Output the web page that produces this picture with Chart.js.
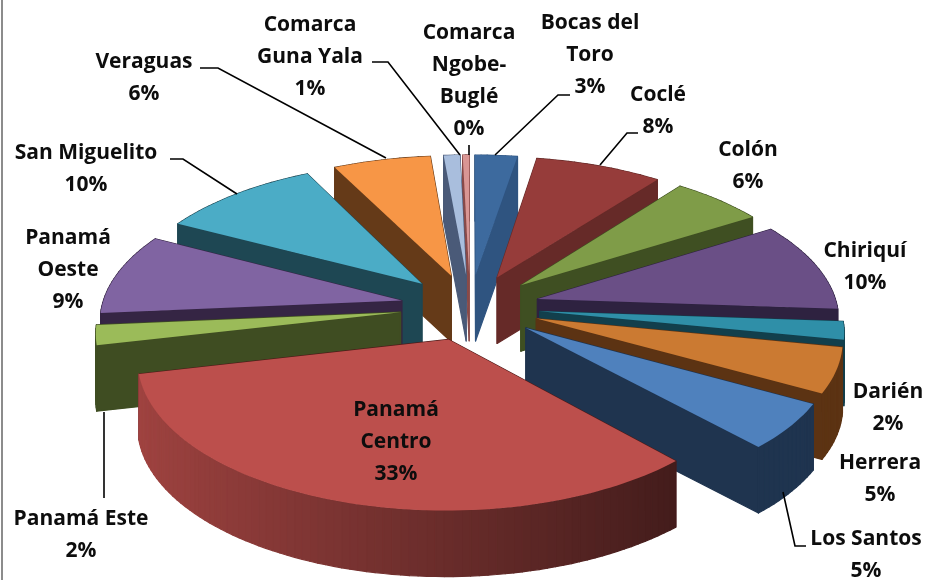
<!DOCTYPE html>
<html><head><meta charset="utf-8">
<style>html,body{margin:0;padding:0;background:#fff}canvas{display:block}</style>
<script src="https://cdn.jsdelivr.net/npm/chart.js@4"></script>
</head><body>
<canvas id="c" width="927" height="580"></canvas>
<script>
const categories = ["Bocas del Toro","Coclé","Colón","Chiriquí","Darién","Herrera","Los Santos","Panamá Centro","Panamá Este","Panamá Oeste","San Miguelito","Veraguas","Comarca Guna Yala","Comarca Ngobe-Buglé"];
const shares = [2.6,7.8,5.7,10.0,2.0,5.0,5.1,33.2,2.2,9.1,9.9,6.0,1.0,0.4];
const shareLabels = ["3%","8%","6%","10%","2%","5%","5%","33%","2%","9%","10%","6%","1%","0%"];
const topColors = ["#3d6a9e","#963c3a","#7f9c48","#6a4f86","#2f8fa8","#cb7a32","#4f81bd","#bc4f4c","#9bbb59","#8064a2","#4bacc6","#f79646","#a9bedd","#d99694"];
const wallColors = ["#2f5480","#662a28","#3f4f22","#2e2240","#123f4c","#5c3313","#1f344f","#4d1a18","#3f4d22","#352544","#1e4753","#653a18","#4a5a78","#8a4a48"];
const labelLines = [["Bocas del","Toro","3%"],["Coclé","8%"],["Colón","6%"],["Chiriquí","10%"],["Darién","2%"],["Herrera","5%"],["Los Santos","5%"],["Panamá","Centro","33%"],["Panamá Este","2%"],["Panamá","Oeste","9%"],["San Miguelito","10%"],["Veraguas","6%"],["Comarca","Guna Yala","1%"],["Comarca","Ngobe-","Buglé","0%"]];
const labelCentres = [[590,23],[658,95],[748,150],[865,251],[888,392],[880,463],[866,539],[396,410],[81,519],[68,238],[86,153],[144,62],[310,25],[469,33]];
const leaders = [[[570,95],[558,95],[495,155]],[[638,133],[627,133],[600,165]],[[200,68],[218,68],[386,158]],[[372,62],[388,62],[460,155]],[[469,145],[469,155]],[[170,159],[183,159],[237,194]],[[104,412],[104,498]],[[783,492],[795,546],[806,546]]];

const TILT = 0.4725, PERSP = 0.1215, DEPTH = 66;

function rgb(hex){return [1,3,5].map(i=>parseInt(hex.substr(i,2),16));}
function shade(hex,f){return 'rgb('+rgb(hex).map(c=>Math.min(255,Math.round(c*f))).join(',')+')';}

const pie3d = {
  id:'pie3d',
  beforeDatasetDraw(){ return false; },
  afterDatasetsDraw(chart){
    const ctx = chart.ctx, arcs = chart.getDatasetMeta(0).data;
    const largest = shares.indexOf(Math.max(...shares));
    const order = arcs.map((a,i)=>i).sort((p,q)=>{
      const m=i=>Math.sin((arcs[i].startAngle+arcs[i].endAngle)/2);
      return m(p)-m(q);
    });
    order.forEach(i=>{
      const a = arcs[i], R = a.outerRadius, mid=(a.startAngle+a.endAngle)/2, off=a.options.offset;
      const ox = off*Math.cos(mid), oy = off*Math.sin(mid);
      const proj=(u,v,z)=>{const f=1/(1-PERSP*v/R);return [a.x+u*f, a.y+TILT*v*f+z*DEPTH];};
      const n = Math.max(2,Math.ceil((a.endAngle-a.startAngle)*40));
      const rim=[];
      for(let k=0;k<=n;k++){const t=a.startAngle+(a.endAngle-a.startAngle)*k/n;rim.push([ox+R*Math.cos(t),oy+R*Math.sin(t),t]);}
      const faces=[];
      const quad=(p,q,col,key)=>faces.push({pts:[proj(p[0],p[1],0),proj(q[0],q[1],0),proj(q[0],q[1],1),proj(p[0],p[1],1)],col,key});
      const apex=[ox,oy];
      quad(apex,rim[0],wallColors[i],(oy+rim[0][1])/2);
      quad(apex,rim[n],wallColors[i],(oy+rim[n][1])/2);
      for(let k=0;k<n;k++){
        const t=(rim[k][2]+rim[k+1][2])/2, c=Math.cos(t);
        const col = i===largest ? shade(topColors[i],0.56-0.30*c) : wallColors[i];
        quad(rim[k],rim[k+1],col,(rim[k][1]+rim[k+1][1])/2);
      }
      faces.sort((x,y)=>x.key-y.key);
      ctx.save();
      ctx.lineWidth=1.2;ctx.lineJoin='round';
      faces.forEach(fc=>{
        ctx.beginPath();fc.pts.forEach((p,j)=>j?ctx.lineTo(p[0],p[1]):ctx.moveTo(p[0],p[1]));ctx.closePath();
        ctx.fillStyle=fc.col;ctx.strokeStyle=fc.col;ctx.fill();ctx.stroke();
      });
      ctx.beginPath();
      let p=proj(apex[0],apex[1],0);ctx.moveTo(p[0],p[1]);
      rim.forEach(r=>{const q=proj(r[0],r[1],0);ctx.lineTo(q[0],q[1]);});
      ctx.closePath();ctx.fillStyle=topColors[i];ctx.fill();
      ctx.restore();
    });
  },
  afterDraw(chart){
    const ctx=chart.ctx;
    ctx.save();
    ctx.strokeStyle='#000';ctx.lineWidth=1.6;
    leaders.forEach(l=>{ctx.beginPath();l.forEach((p,j)=>j?ctx.lineTo(p[0],p[1]):ctx.moveTo(p[0],p[1]));ctx.stroke();});
    ctx.fillStyle='#0d0d0d';ctx.font='700 21px "Open Sans"';ctx.textAlign='center';ctx.textBaseline='middle';
    labelLines.forEach((lines,i)=>{const [x,y]=labelCentres[i];lines.forEach((t,j)=>ctx.fillText(t,x,y+j*32));});
    ctx.fillStyle='#8c8c8c';ctx.fillRect(1,0,2,580);
    ctx.restore();
  }
};

new Chart(document.getElementById('c'),{
  type:'pie',
  data:{labels:categories,datasets:[{data:shares,backgroundColor:topColors,offset:70,borderWidth:0}]},
  options:{responsive:false,animation:false,radius:300,layout:{padding:{left:13,top:34}},
    plugins:{legend:{display:false},tooltip:{enabled:false}}},
  plugins:[pie3d]
});
</script>
</body></html>
